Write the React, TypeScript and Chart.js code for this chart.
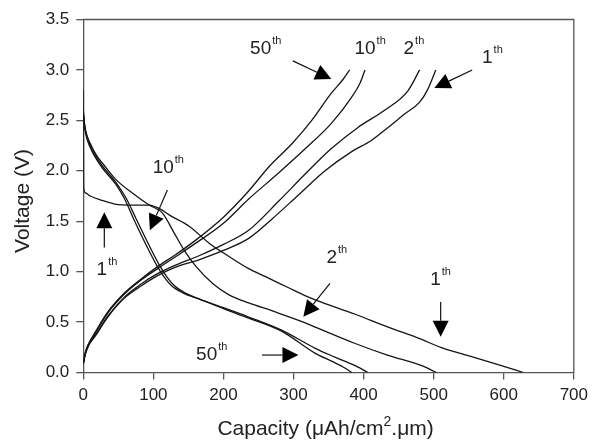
import React, { useEffect, useRef } from "react";
import { Chart, registerables } from "chart.js";

Chart.register(...registerables);

type Pt = [number, number];

// Capacity (µAh/cm².µm), Voltage (V)
const discharge1: Pt[] = [[0, 2.8], [0.5, 1.84], [3, 1.78], [10, 1.75], [25, 1.71], [45, 1.67], [70, 1.66], [94, 1.66], [110, 1.62], [123, 1.56], [151, 1.45], [180, 1.28], [208, 1.15], [236, 1.03], [260, 0.95], [293, 0.84], [314, 0.77], [331, 0.72], [387, 0.58], [435, 0.45], [482, 0.33], [510, 0.25], [553, 0.16], [600, 0.06], [628, 0]];
const discharge2: Pt[] = [[0, 2.56], [3, 2.4], [10, 2.27], [20, 2.14], [28, 2.07], [47, 1.91], [70, 1.78], [94, 1.66], [113, 1.58], [130, 1.38], [145, 1.2], [161, 1.05], [185, 0.88], [208, 0.77], [236, 0.69], [270, 0.61], [314, 0.5], [331, 0.45], [387, 0.29], [435, 0.17], [482, 0.07], [504, 0]];
const discharge10: Pt[] = [[0, 2.6], [2, 2.45], [6, 2.33], [12, 2.22], [20, 2.12], [28, 2.04], [47, 1.88], [61, 1.73], [75, 1.53], [94, 1.26], [109, 1.06], [120, 0.94], [130, 0.86], [145, 0.79], [165, 0.73], [201, 0.64], [236, 0.55], [283, 0.42], [331, 0.24], [360, 0.15], [390, 0.06], [406, 0]];
const discharge50: Pt[] = [[0, 2.57], [2, 2.42], [6, 2.3], [12, 2.2], [20, 2.1], [28, 2.02], [47, 1.86], [59, 1.72], [72, 1.52], [90, 1.26], [105, 1.06], [116, 0.94], [126, 0.86], [142, 0.79], [165, 0.73], [201, 0.63], [236, 0.54], [283, 0.41], [331, 0.19], [355, 0.11], [372, 0.05], [383, 0]];

const charge1: Pt[] = [[0, 0.09], [3, 0.18], [8, 0.27], [17, 0.36], [35, 0.55], [59, 0.74], [83, 0.86], [106, 0.96], [130, 1.04], [166, 1.12], [200, 1.21], [236, 1.33], [269, 1.52], [307, 1.76], [345, 2.0], [383, 2.19], [411, 2.3], [435, 2.43], [458, 2.56], [480, 2.68], [491, 2.8], [503, 3.0]];
const charge2: Pt[] = [[0, 0.09], [3, 0.19], [8, 0.28], [17, 0.37], [35, 0.56], [59, 0.75], [83, 0.88], [106, 0.98], [130, 1.06], [166, 1.16], [200, 1.27], [236, 1.41], [279, 1.7], [317, 1.97], [354, 2.22], [392, 2.43], [430, 2.6], [463, 2.79], [480, 3.0]];
const charge10: Pt[] = [[0, 0.09], [3, 0.2], [8, 0.29], [17, 0.39], [35, 0.59], [59, 0.78], [83, 0.92], [106, 1.03], [130, 1.14], [160, 1.28], [200, 1.48], [236, 1.72], [279, 1.98], [317, 2.22], [354, 2.47], [383, 2.73], [395, 2.87], [402, 3.0]];
const charge50: Pt[] = [[0, 0.09], [3, 0.2], [8, 0.29], [17, 0.4], [35, 0.6], [59, 0.79], [83, 0.93], [106, 1.05], [130, 1.16], [160, 1.31], [200, 1.54], [236, 1.8], [265, 2.04], [298, 2.27], [326, 2.5], [354, 2.77], [370, 2.9], [380, 3.0]];

const seriesNames = ["1th discharge", "2th discharge", "10th discharge", "50th discharge", "1th charge", "2th charge", "10th charge", "50th charge"];
const seriesData = [discharge1, discharge2, discharge10, discharge50, charge1, charge2, charge10, charge50];

const xTitle = "Capacity (\u03bcAh/cm";
const xTitleSup = "2";
const xTitleEnd = ".\u03bcm)";
const yTitle = "Voltage (V)";

// cycle labels: main text, superscript, anchor (data coords)
const labels: { text: string; sup: string; x: number; y: number }[] = [
  { text: "50", sup: "th", x: 238, y: 3.16 },
  { text: "10", sup: "th", x: 387, y: 3.16 },
  { text: "2", sup: "th", x: 457, y: 3.16 },
  { text: "1", sup: "th", x: 569, y: 3.065 },
  { text: "10", sup: "th", x: 99, y: 1.98 },
  { text: "1", sup: "th", x: 19, y: 0.967 },
  { text: "2", sup: "th", x: 347, y: 1.086 },
  { text: "1", sup: "th", x: 495, y: 0.867 },
  { text: "50", sup: "th", x: 161, y: 0.124 },
];

// arrows: tail -> tip (data coords)
const arrows: { x1: number; y1: number; x2: number; y2: number }[] = [
  { x1: 299, y1: 3.09, x2: 354, y2: 2.91 },
  { x1: 555, y1: 3.0, x2: 501, y2: 2.82 },
  { x1: 120, y1: 1.81, x2: 95, y2: 1.41 },
  { x1: 30, y1: 1.24, x2: 30, y2: 1.59 },
  { x1: 352, y1: 0.884, x2: 314, y2: 0.553 },
  { x1: 510, y1: 0.7, x2: 510, y2: 0.355 },
  { x1: 255, y1: 0.173, x2: 307, y2: 0.173 },
];

const FONT = '"Liberation Sans", Arial, Helvetica, sans-serif';
const TEXT = "#222";
const AXIS = "#555";
const LINE = "#151515";

const overlayPlugin = {
  id: "overlay",
  afterDraw(chart: any) {
    const { ctx, chartArea, scales } = chart;
    const { left, right, top, bottom } = chartArea;
    const xs = scales.x;
    const ys = scales.y;
    ctx.save();
    // frame top & right
    ctx.strokeStyle = AXIS;
    ctx.lineWidth = 1.3;
    ctx.beginPath();
    ctx.moveTo(left, top);
    ctx.lineTo(right, top);
    ctx.lineTo(right, bottom);
    ctx.stroke();

    ctx.fillStyle = TEXT;
    // x title
    ctx.textBaseline = "alphabetic";
    ctx.textAlign = "left";
    ctx.font = `21px ${FONT}`;
    const w1 = ctx.measureText(xTitle).width;
    const w3 = ctx.measureText(xTitleEnd).width;
    ctx.font = `14px ${FONT}`;
    const w2 = ctx.measureText(xTitleSup).width;
    const total = w1 + w2 + w3;
    const cx = (left + right) / 2 - 3;
    const sx = cx - total / 2;
    const by = 435;
    ctx.font = `21px ${FONT}`;
    ctx.fillText(xTitle, sx, by);
    ctx.font = `14px ${FONT}`;
    ctx.fillText(xTitleSup, sx + w1, by - 9);
    ctx.font = `21px ${FONT}`;
    ctx.fillText(xTitleEnd, sx + w1 + w2, by);

    // y title
    ctx.save();
    ctx.translate(28.5, 201);
    ctx.rotate(-Math.PI / 2);
    ctx.textAlign = "center";
    ctx.font = `21px ${FONT}`;
    ctx.fillText(yTitle, 0, 0);
    ctx.restore();

    // labels
    ctx.textAlign = "left";
    for (const l of labels) {
      const px = xs.getPixelForValue(l.x);
      const py = ys.getPixelForValue(l.y);
      ctx.font = `19px ${FONT}`;
      ctx.fillText(l.text, px, py);
      const w = ctx.measureText(l.text).width;
      ctx.font = `11px ${FONT}`;
      ctx.fillText(l.sup, px + w + 1, py - 10);
    }

    // arrows
    ctx.strokeStyle = "#111";
    ctx.fillStyle = "#000";
    ctx.lineWidth = 1.2;
    for (const a of arrows) {
      const x1 = xs.getPixelForValue(a.x1);
      const y1 = ys.getPixelForValue(a.y1);
      const x2 = xs.getPixelForValue(a.x2);
      const y2 = ys.getPixelForValue(a.y2);
      const dx = x2 - x1;
      const dy = y2 - y1;
      const len = Math.hypot(dx, dy);
      const ux = dx / len;
      const uy = dy / len;
      const hl = 16;
      const hw = 8;
      const bx = x2 - ux * hl;
      const byy = y2 - uy * hl;
      ctx.beginPath();
      ctx.moveTo(x1, y1);
      ctx.lineTo(bx, byy);
      ctx.stroke();
      ctx.beginPath();
      ctx.moveTo(x2, y2);
      ctx.lineTo(bx - uy * hw, byy + ux * hw);
      ctx.lineTo(bx + uy * hw, byy - ux * hw);
      ctx.closePath();
      ctx.fill();
    }
    ctx.restore();
  },
};

export default function App() {
  const ref = useRef<HTMLCanvasElement | null>(null);
  useEffect(() => {
    if (!ref.current) return;
    const chart = new Chart(ref.current, {
      type: "line",
      data: {
        datasets: seriesData.map((d, i) => ({
          label: seriesNames[i],
          data: d.map(([x, y]) => ({ x, y })),
          borderColor: LINE,
          borderWidth: 1.3,
          pointRadius: 0,
          fill: false,
          cubicInterpolationMode: "monotone" as const,
        })),
      },
      options: {
        responsive: false,
        animation: false,
        layout: { padding: { top: 19.5, right: 16.7, left: 0, bottom: 0 } },
        plugins: { legend: { display: false }, tooltip: { enabled: false }, title: { display: false } },
        scales: {
          x: {
            type: "linear",
            min: 0,
            max: 700,
            ticks: { stepSize: 100, color: TEXT, font: { family: FONT, size: 17 }, padding: 6, maxRotation: 0 },
            grid: { drawOnChartArea: false, drawTicks: true, tickLength: 7, color: AXIS, lineWidth: 1.3 },
            border: { display: true, color: AXIS, width: 1.3 },
            afterFit: (s: any) => { s.height = 68.5; },
          },
          y: {
            type: "linear",
            min: 0,
            max: 3.5,
            ticks: { stepSize: 0.5, color: TEXT, font: { family: FONT, size: 17 }, padding: 7, callback: (v: any) => Number(v).toFixed(1) },
            grid: { drawOnChartArea: false, drawTicks: true, tickLength: 7, color: AXIS, lineWidth: 1.3 },
            border: { display: true, color: AXIS, width: 1.3 },
            afterFit: (s: any) => { s.width = 83.3; },
          },
        },
      },
      plugins: [overlayPlugin],
    });
    return () => chart.destroy();
  }, []);
  return (
    <div style={{ position: "absolute", left: 0, top: 0, width: 594, height: 441, background: "#fff" }}>
      <canvas ref={ref} width={594} height={441} />
    </div>
  );
}
